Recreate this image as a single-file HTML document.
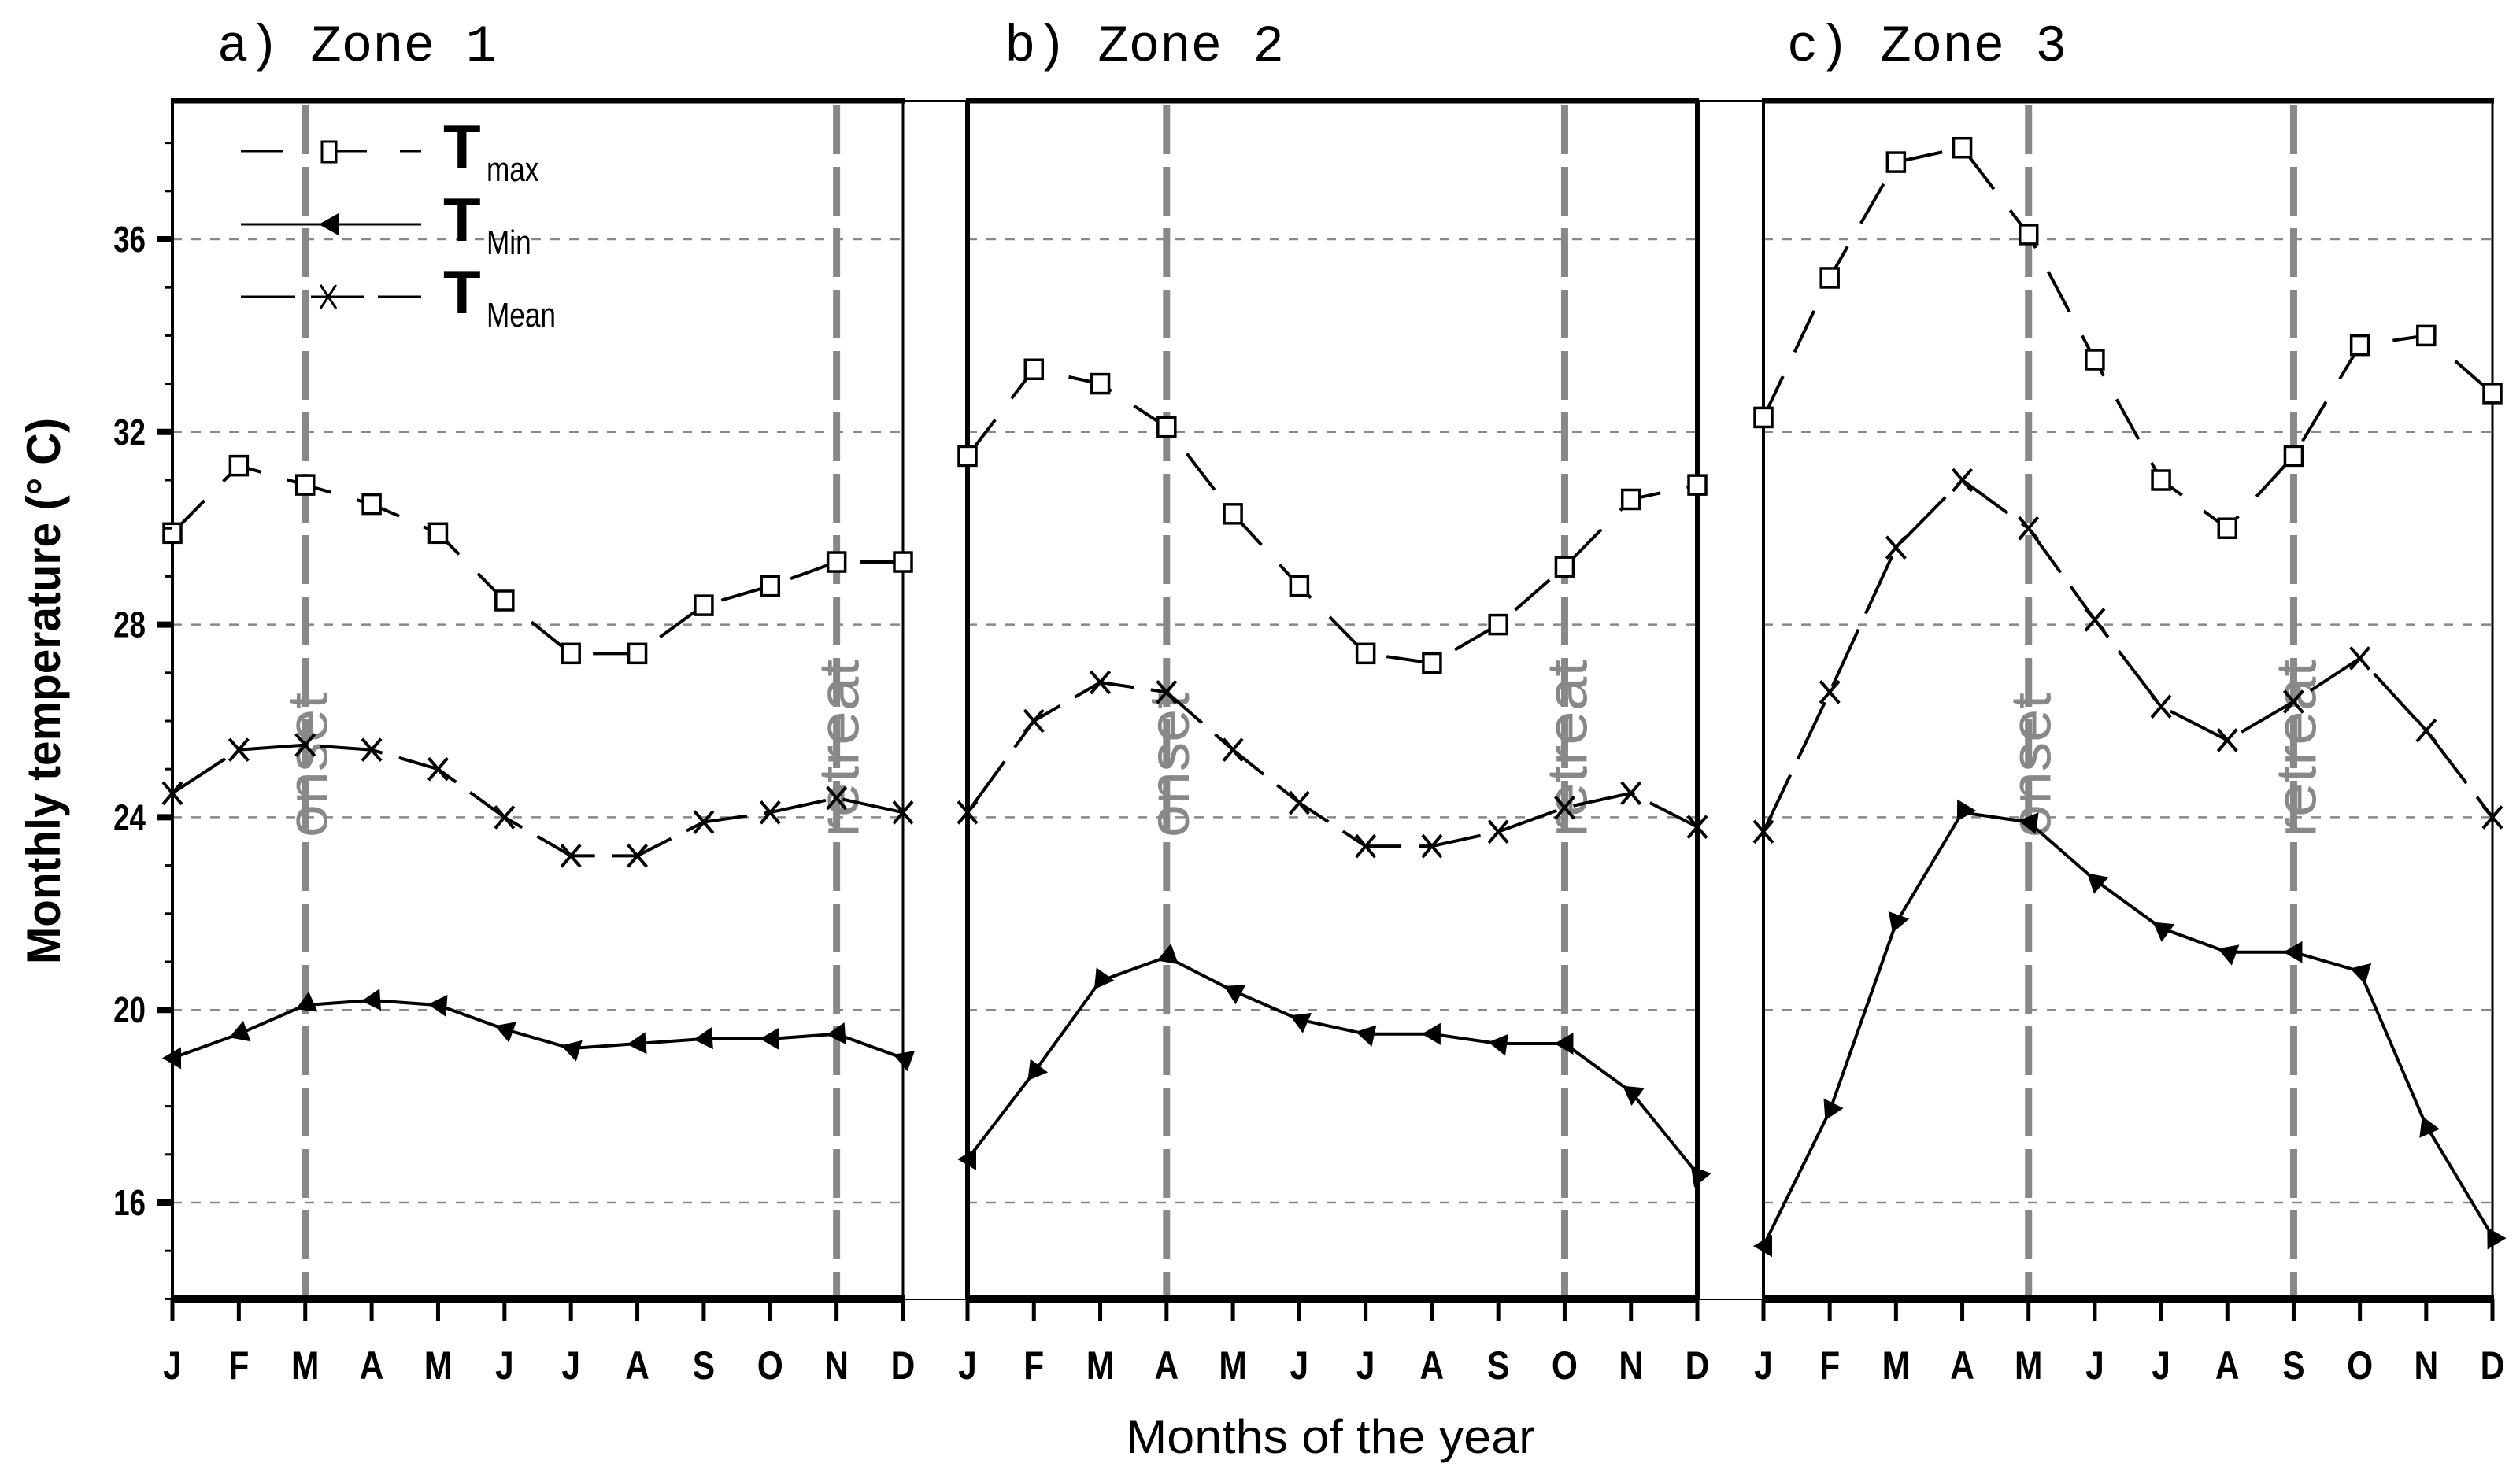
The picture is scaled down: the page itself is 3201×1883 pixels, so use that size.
<!DOCTYPE html>
<html><head><meta charset="utf-8"><style>
html,body{margin:0;padding:0;background:#fff;}
svg{display:block;}
text{font-family:"Liberation Sans",sans-serif;}
</style></head><body>
<svg id="chart" width="3201" height="1883" viewBox="0 0 3201 1883" xmlns="http://www.w3.org/2000/svg">
<rect width="3201" height="1883" fill="#fff"/>
<g id="g"></g>
</svg>
<script>
const months = ["J","F","M","A","M","J","J","A","S","O","N","D"];
const yTicks = [16,20,24,28,32,36];
const zoneTitles = ["a) Zone 1","b) Zone 2","c) Zone 3"];
const tmaxZ1 = [29.9,31.3,30.9,30.5,29.9,28.5,27.4,27.4,28.4,28.8,29.3,29.3];
const tmeanZ1 = [24.5,25.4,25.5,25.4,25.0,24.0,23.2,23.2,23.9,24.1,24.4,24.1];
const tminZ1 = [19.0,19.5,20.1,20.2,20.1,19.6,19.2,19.3,19.4,19.4,19.5,19.0];
const tmaxZ2 = [31.5,33.3,33.0,32.1,30.3,28.8,27.4,27.2,28.0,29.2,30.6,30.9];
const tmeanZ2 = [24.1,26.0,26.8,26.6,25.4,24.3,23.4,23.4,23.7,24.2,24.5,23.8];
const tminZ2 = [16.9,18.7,20.6,21.1,20.4,19.8,19.5,19.5,19.3,19.3,18.3,16.6];
const tmaxZ3 = [32.3,35.2,37.6,37.9,36.1,33.5,31.0,30.0,31.5,33.8,34.0,32.8];
const tmeanZ3 = [23.7,26.6,29.6,31.0,30.0,28.1,26.3,25.6,26.4,27.3,25.8,24.0];
const tminZ3 = [15.1,17.9,21.8,24.1,23.9,22.7,21.7,21.2,21.2,20.8,17.6,15.3];
const onsetIdx = [2,3,4];
const retreatIdx = [10,9,8];

const NS="http://www.w3.org/2000/svg";
const g=document.getElementById('g');
function el(t,a,p){const e=document.createElementNS(NS,t);for(const k in a)e.setAttribute(k,a[k]);(p||g).appendChild(e);return e;}
const panelX=[[219,1147],[1229,2156],[2240,3166]];
const yTop=128,bot=1651;
function Y(v){return 304+(36-v)*61.2;}
const zones=[[tmaxZ1,tmeanZ1,tminZ1],[tmaxZ2,tmeanZ2,tminZ2],[tmaxZ3,tmeanZ3,tminZ3]];

let gb=el('rect',{x:1147,y:yTop,width:82,height:bot-yTop,fill:'none',stroke:'#000','stroke-width':2});


gb=el('rect',{x:2156,y:yTop,width:84,height:bot-yTop,fill:'none',stroke:'#000','stroke-width':2});



zones.forEach((z,pi)=>{
  const [x0,x1]=panelX[pi];
  const X=i=>x0+(x1-x0)*i/11;
  const pg=el('g',{});
  
  
  yTicks.forEach(v=>{
    const l=el('line',{x1:x0,x2:x1,y1:Y(v),y2:Y(v),stroke:'#888','stroke-width':2.5,'stroke-dasharray':'12 12'},pg);
    
    
  });
  [[onsetIdx[pi],'onset'],[retreatIdx[pi],'retreat']].forEach(([idx,lab])=>{
    const l=el('line',{x1:X(idx),x2:X(idx),y1:yTop+6,y2:bot,stroke:'#888','stroke-width':9,'stroke-dasharray':'62 16'},pg);
    
    
    const len=lab==='onset'?184:226;
    const t=el('text',{x:0,y:0,transform:`translate(${X(idx)+28},${1064}) rotate(-90)`,'font-size':72,fill:'#888',textLength:len,lengthAdjust:'spacingAndGlyphs'},pg);
    t.textContent=lab;
    
    
  });
  const fr=el('g',{},pg);
  el('line',{x1:x0-2,x2:x1+2,y1:yTop,y2:yTop,stroke:'#000','stroke-width':7},fr);
  el('line',{x1:x0-2,x2:x1+2,y1:bot,y2:bot,stroke:'#000','stroke-width':10},fr);
  el('line',{x1:x0,x2:x0,y1:yTop,y2:bot,stroke:'#000','stroke-width':pi===1?6:4},fr);
  el('line',{x1:x1,x2:x1,y1:yTop,y2:bot,stroke:'#000','stroke-width':pi===1?6:3},fr);
  
  
  months.forEach((m,i)=>{
    el('line',{x1:X(i),x2:X(i),y1:bot,y2:bot+28,stroke:'#000','stroke-width':5},pg);
    const t=el('text',{x:X(i),y:1752,'font-size':50,'font-weight':'bold','text-anchor':'middle',transform:`translate(${X(i)*0.15},0) scale(0.85,1)`},pg);
    t.textContent=m;
    
    
  });
  const tt=el('text',{x:[276,1276,2270][pi],y:77,'font-size':66,style:'font-family:"Liberation Mono",monospace',textLength:355,lengthAdjust:'spacingAndGlyphs'},pg);
  tt.textContent=zoneTitles[pi];
  
  
  const [tmax,tmean,tmin]=z;
  const pts=a=>a.map((v,i)=>X(i)+','+Y(v)).join(' ');
  let s=el('polyline',{points:pts(tmax),fill:'none',stroke:'#000','stroke-width':4,'stroke-dasharray':'58 34'},pg);
  
  
  s=el('polyline',{points:pts(tmean),fill:'none',stroke:'#000','stroke-width':4,'stroke-dasharray':'80 22'},pg);
  
  
  s=el('polyline',{points:pts(tmin),fill:'none',stroke:'#000','stroke-width':4},pg);
  
  
  tmax.forEach((v,i)=>{
    const r=el('rect',{x:X(i)-11,y:Y(v)-12,width:22,height:24,fill:'#fff',stroke:'#000','stroke-width':3.5},pg);
    
    
  });
  tmean.forEach((v,i)=>{
    const p=el('path',{d:`M${X(i)-12},${Y(v)-14}L${X(i)+12},${Y(v)+14}M${X(i)+12},${Y(v)-14}L${X(i)-12},${Y(v)+14}`,stroke:'#000','stroke-width':4},pg);
    
    
  });
  tmin.forEach((v,i)=>{
    const j=i>0?i-1:1;
    let ang=Math.atan2(Y(tmin[j])-Y(v),X(j)-X(i))*180/Math.PI;
    if(i===0) ang=180;
    const p=el('path',{d:'M-13,0L11,-14L11,14Z',fill:'#000',transform:`translate(${X(i)},${Y(v)}) rotate(${ang+180})`},pg);
    
    
  });
});

for(let v=14;v<=38;v++){
  const major=yTicks.includes(v);
  el('line',{x1:major?199:209,x2:219,y1:Y(v),y2:Y(v),stroke:'#000','stroke-width':major?8:3});
}
yTicks.forEach(v=>{
  const t=el('text',{x:0,y:0,transform:`translate(185,${Y(v)+16}) scale(0.8,1)`,'font-size':46,'font-weight':'bold','text-anchor':'end'});
  t.textContent=v;
  
  
});
let yt=el('text',{x:0,y:0,transform:'translate(76,878) rotate(-90)','font-size':60,'font-weight':'bold','text-anchor':'middle',textLength:694,lengthAdjust:'spacingAndGlyphs'});
yt.textContent='Monthly temperature (° C)';


let xt=el('text',{x:1690,y:1846,'font-size':60,'text-anchor':'middle',textLength:520,lengthAdjust:'spacingAndGlyphs'});
xt.textContent='Months of the year';



const lg=el('g',{});


const legRows=[[192,'max'],[285,'Min'],[377,'Mean']];
legRows.forEach(([y,sub],k)=>{
  const e=el('g',{},lg);
  
  
  if(k===0){
    el('line',{x1:306,x2:360,y1:y,y2:y,stroke:'#000','stroke-width':3},e);
    el('line',{x1:420,x2:466,y1:y,y2:y,stroke:'#000','stroke-width':3},e);
    el('line',{x1:508,x2:535,y1:y,y2:y,stroke:'#000','stroke-width':3},e);
    el('rect',{x:409,y:y-12,width:18,height:26,fill:'#fff',stroke:'#000','stroke-width':3},e);
  }else if(k===1){
    el('line',{x1:306,x2:535,y1:y,y2:y,stroke:'#000','stroke-width':3},e);
    el('path',{d:`M405,${y}L430,${y-14}L430,${y+14}Z`,fill:'#000'},e);
  }else{
    el('line',{x1:306,x2:375,y1:y,y2:y,stroke:'#000','stroke-width':3},e);
    el('line',{x1:395,x2:462,y1:y,y2:y,stroke:'#000','stroke-width':3},e);
    el('line',{x1:480,x2:535,y1:y,y2:y,stroke:'#000','stroke-width':3},e);
    el('path',{d:`M407,${y-15}L427,${y+15}M427,${y-15}L407,${y+15}`,stroke:'#000','stroke-width':3},e);
  }
  const t=el('text',{x:563,y:y+21,'font-size':78,'font-weight':'bold'},e);
  t.textContent='T';
  const s=el('text',{x:618,y:y+38,'font-size':44,transform:`translate(${618*0.2},0) scale(0.8,1)`},e);
  s.textContent=sub;
});
</script>
</body></html>
